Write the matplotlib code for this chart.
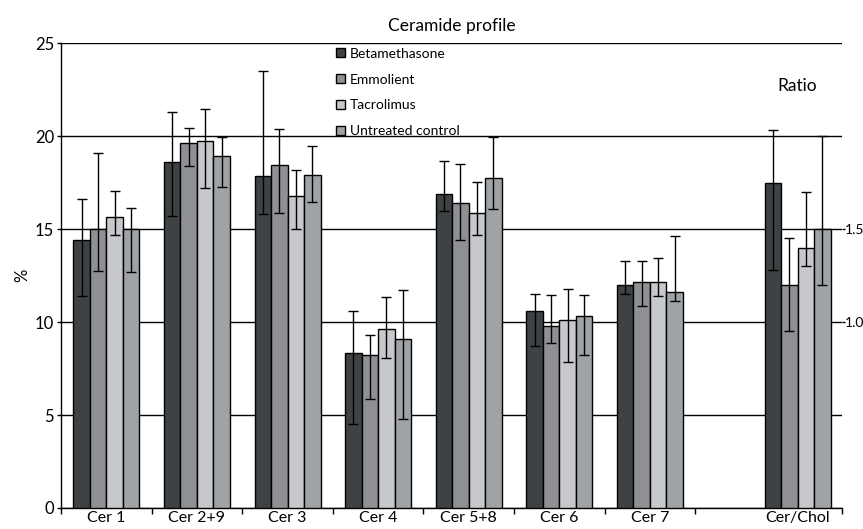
import matplotlib
matplotlib.use("Agg")
import matplotlib.pyplot as plt
import numpy as np

plt.rcParams['font.family'] = ['Lato', 'DejaVu Sans']

# Data
categories = ['Cer 1', 'Cer 2+9', 'Cer 3', 'Cer 4', 'Cer 5+8', 'Cer 6', 'Cer 7']
groups = ['Betamethasone', 'Emmolient', 'Tacrolimus', 'Untreated control']
colors = ['#3f4244', '#8e9094', '#c6c8cb', '#a0a3a6']

# mean, lower end and upper end of error bar (%)
beta_mean = [14.4, 18.6, 17.85, 8.35, 16.9, 10.6, 12.0]
beta_low = [11.4, 15.7, 15.8, 4.5, 15.95, 8.7, 11.5]
beta_high = [16.6, 21.3, 23.5, 10.6, 18.65, 11.5, 13.3]

emm_mean = [15.0, 19.6, 18.45, 8.2, 16.4, 9.8, 12.15]
emm_low = [12.75, 18.4, 15.85, 5.85, 14.4, 8.85, 10.85]
emm_high = [19.1, 20.45, 20.35, 9.3, 18.5, 11.45, 13.3]

tac_mean = [15.65, 19.75, 16.75, 9.6, 15.85, 10.1, 12.15]
tac_low = [14.7, 17.2, 15.0, 8.05, 14.7, 7.85, 11.4]
tac_high = [17.05, 21.45, 18.15, 11.35, 17.55, 11.8, 13.45]

untr_mean = [15.0, 18.9, 17.9, 9.1, 17.75, 10.3, 11.6]
untr_low = [12.7, 17.25, 16.45, 4.8, 16.1, 8.2, 11.15]
untr_high = [16.15, 19.95, 19.45, 11.7, 19.95, 11.45, 14.6]

# Cer/Chol ratio (right axis)
ratio_label = 'Cer/Chol'
ratio_mean = [1.75, 1.20, 1.40, 1.50]
ratio_low = [1.28, 0.95, 1.30, 1.20]
ratio_high = [2.03, 1.45, 1.70, 2.00]

means = [beta_mean, emm_mean, tac_mean, untr_mean]
lows = [beta_low, emm_low, tac_low, untr_low]
highs = [beta_high, emm_high, tac_high, untr_high]

fig = plt.figure(figsize=(8.63, 5.29), dpi=100)
ax = fig.add_axes([0.0707, 0.0397, 0.905, 0.879])
ax2 = ax.twinx()

x = np.arange(len(categories)) + 0.5
xr = 8.13
w = 0.182
offsets = [-1.5 * w, -0.5 * w, 0.5 * w, 1.5 * w]
err_kw = dict(ecolor='black', elinewidth=1, capsize=3.6, capthick=1)

handles = []
for i in range(4):
    m = np.array(means[i])
    yerr = [m - np.array(lows[i]), np.array(highs[i]) - m]
    b = ax.bar(x + offsets[i], m, w, color=colors[i], edgecolor='black',
               linewidth=1, yerr=yerr, error_kw=err_kw, zorder=3, label=groups[i])
    handles.append(b)
    rm = ratio_mean[i]
    ax2.bar(xr + offsets[i], rm, w, color=colors[i], edgecolor='black', linewidth=1,
            yerr=[[rm - ratio_low[i]], [ratio_high[i] - rm]], error_kw=err_kw, zorder=3)

ax.set_xlim(0, 8.62)
ax.set_ylim(0, 25)
ax2.set_ylim(0, 2.5)

ax.set_yticks([0, 5, 10, 15, 20, 25])
ax.yaxis.grid(True, color='black', linewidth=1)
ax.set_axisbelow(True)
ax.tick_params(axis='y', length=3, width=1, labelsize=12, pad=2)

ax.set_xticks([0, 1, 2, 3, 4, 5, 6, 7, 8.62])
ax.set_xticklabels([])
ax.set_xticks(list(x) + [xr], minor=True)
ax.set_xticklabels(categories + [ratio_label], minor=True)
ax.tick_params(axis='x', which='major', length=4, width=1)
ax.tick_params(axis='x', which='minor', length=0, labelsize=11.5, pad=2)

ax2.set_yticks([1.0, 1.5])
ax2.set_yticklabels(['1.0', '1.5'])
ax2.tick_params(axis='y', length=2, width=1, labelsize=10, pad=0)

for a in (ax, ax2):
    a.spines['top'].set_visible(False)
    a.spines['right'].set_visible(False)
ax2.spines['left'].set_visible(False)
ax2.spines['bottom'].set_visible(False)
ax.spines['left'].set_linewidth(1)
ax.spines['bottom'].set_linewidth(1)

ax.set_ylabel('%', fontsize=12, labelpad=3)
ax.set_title('Ceramide profile', fontsize=12.5, pad=9)
ax.text(xr, 22.7, 'Ratio', fontsize=12.5, ha='center', va='center')

ax.legend(handles=handles, loc='upper left', bbox_to_anchor=(0.352, 0.99),
          frameon=False, fontsize=10, handlelength=0.65, handleheight=0.65,
          handletextpad=0.35, labelspacing=1.0, borderpad=0, borderaxespad=0)

fig.savefig('out.png', dpi=100)
